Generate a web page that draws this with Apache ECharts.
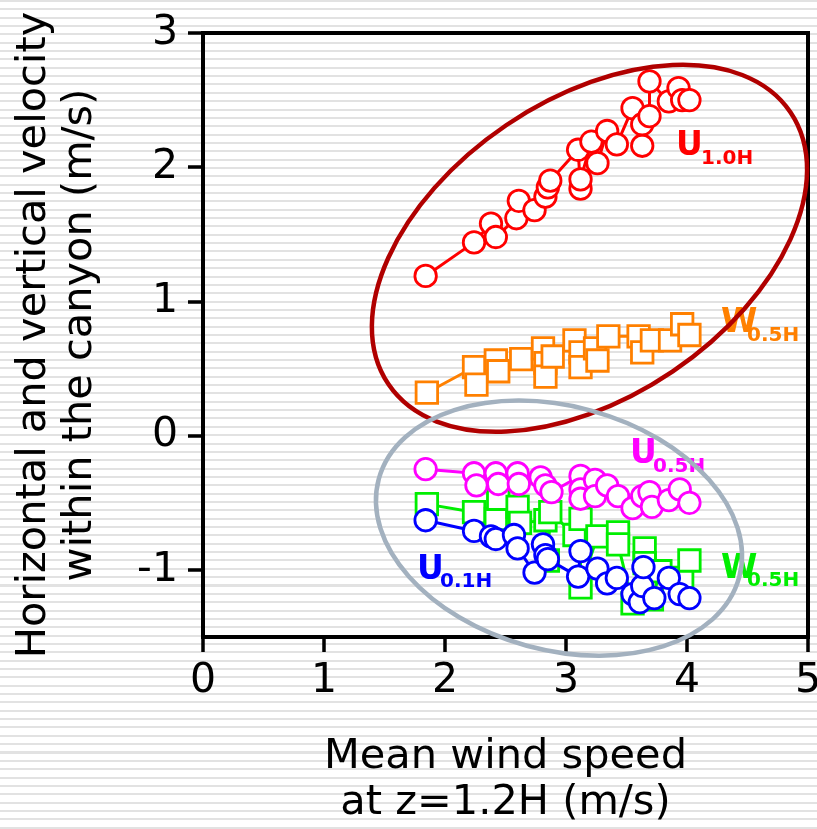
<!DOCTYPE html>
<html><head><meta charset="utf-8">
<script src="https://cdn.jsdelivr.net/npm/echarts@6/dist/echarts.min.js"></script>
<style>
html,body{margin:0;padding:0;overflow:hidden;width:817px;height:829px;}
body{background:repeating-linear-gradient(to bottom,#e2e2e2 0px,#e2e2e2 2px,#ffffff 2px,#ffffff 8.35px);}
#c{width:817px;height:829px;}
</style></head>
<body><div id="c"></div>
<script>
// ---- data ----
const xTicks = [0, 1, 2, 3, 4, 5];
const yTicks = [-1, 0, 1, 2, 3];

const xU10 = [1.84,2.24,2.38,2.42,2.59,2.61,2.74,2.83,2.85,2.87,3.10,3.12,3.12,3.21,3.26,3.34,3.42,3.55,3.63,3.63,3.69,3.69,3.85,3.93,3.96,4.02];
const yU10 = [1.19,1.44,1.58,1.48,1.62,1.75,1.68,1.78,1.85,1.90,2.13,1.84,1.91,2.19,2.03,2.27,2.17,2.44,2.16,2.32,2.38,2.64,2.49,2.59,2.50,2.50];

const xW05a = [1.85,2.24,2.26,2.42,2.44,2.63,2.81,2.83,2.83,2.89,3.07,3.12,3.12,3.24,3.26,3.35,3.60,3.63,3.71,3.86,3.96,4.02];
const yW05a = [0.32,0.51,0.38,0.56,0.48,0.57,0.65,0.54,0.44,0.59,0.71,0.62,0.51,0.65,0.56,0.74,0.74,0.62,0.71,0.71,0.83,0.75];

const xU05 = [1.84,2.24,2.26,2.42,2.44,2.60,2.61,2.79,2.83,2.88,3.12,3.12,3.12,3.24,3.24,3.34,3.43,3.55,3.63,3.69,3.71,3.85,3.94,4.02];
const yU05 = [-0.25,-0.28,-0.37,-0.28,-0.36,-0.28,-0.36,-0.31,-0.37,-0.42,-0.30,-0.40,-0.47,-0.33,-0.45,-0.37,-0.45,-0.54,-0.45,-0.42,-0.53,-0.48,-0.40,-0.50];

const xW05b = [1.85,2.24,2.42,2.44,2.60,2.62,2.83,2.85,2.87,3.07,3.12,3.12,3.26,3.43,3.43,3.55,3.65,3.65,3.71,3.78,3.96,4.02];
const yW05b = [-0.51,-0.57,-0.62,-0.47,-0.53,-0.65,-0.63,-0.93,-0.57,-0.74,-0.62,-1.13,-0.75,-0.72,-0.81,-1.25,-0.84,-0.95,-1.22,-1.01,-1.06,-0.93];

const xU01 = [1.84,2.24,2.38,2.42,2.57,2.60,2.74,2.81,2.83,2.85,3.10,3.12,3.26,3.34,3.42,3.55,3.61,3.63,3.64,3.73,3.85,3.94,4.02];
const yU01 = [-0.63,-0.71,-0.75,-0.77,-0.74,-0.84,-1.02,-0.81,-0.89,-0.92,-1.05,-0.86,-0.99,-1.10,-1.06,-1.18,-1.24,-1.12,-0.98,-1.21,-1.06,-1.18,-1.21];

// ---- chart ----
const FONT = '"DejaVu Sans", sans-serif';
const pairs = (xs, ys) => xs.map((x, i) => [x, ys[i]]);

function mkSeries(name, xs, ys, color, symbol, size, z) {
  return {
    name: name, type: 'line', data: pairs(xs, ys),
    symbol: symbol, symbolSize: size, showSymbol: true,
    lineStyle: { color: color, width: 3 },
    itemStyle: { color: '#ffffff', borderColor: color, borderWidth: 2.8 },
    z: z, animation: false, silent: true
  };
}

const chart = echarts.init(document.getElementById('c'), null, { renderer: 'canvas', width: 817, height: 829 });

const option = {
  backgroundColor: 'transparent',
  animation: false,
  grid: { left: 203, right: 9, top: 33, bottom: 192, containLabel: false, outerBoundsMode: 'none',
    show: true, borderColor: '#000', borderWidth: 4, backgroundColor: 'transparent' },
  xAxis: {
    type: 'value', min: 0, max: 5, interval: 1,
    axisLine: { show: true, onZero: false, lineStyle: { color: '#000', width: 4 } },
    axisTick: { show: true, inside: false, length: 15, lineStyle: { color: '#000', width: 3.5 } },
    axisLabel: { color: '#000', fontFamily: FONT, fontSize: 41, margin: 24,
      customValues: xTicks, hideOverlap: false },
    splitLine: { show: false },
    name: 'Mean wind speed\nat z=1.2H (m/s)', nameLocation: 'middle', nameGap: 97,
    nameTextStyle: { color: '#000', fontFamily: FONT, fontSize: 41.5, lineHeight: 46 }
  },
  yAxis: {
    type: 'value', min: -1.5, max: 3,
    axisLine: { show: true, onZero: false, lineStyle: { color: '#000', width: 4 } },
    axisTick: { show: true, inside: false, length: 15, lineStyle: { color: '#000', width: 3.5 }, customValues: yTicks },
    axisLabel: { color: '#000', fontFamily: FONT, fontSize: 41, margin: 25, customValues: yTicks },
    splitLine: { show: false },
    name: 'Horizontal and vertical velocity\nwithin the canyon (m/s)', nameLocation: 'middle', nameRotate: 90, nameGap: 100,
    nameTextStyle: { color: '#000', fontFamily: FONT, fontSize: 41.5, lineHeight: 46 }
  },
  series: [
    mkSeries('W0.5H upper', xW05a, yW05a, '#ff8000', 'rect', 21.5, 2),
    mkSeries('U1.0H', xU10, yU10, '#ff0000', 'circle', 21.5, 3),
    mkSeries('W0.5H lower', xW05b, yW05b, '#00ee00', 'rect', 21.5, 4),
    mkSeries('U0.5H', xU05, yU05, '#ff00ff', 'circle', 21.5, 5),
    mkSeries('U0.1H', xU01, yU01, '#0000ff', 'circle', 21.5, 6)
  ]
};
chart.setOption(option);

// annotation ellipses (centres in data units, converted through the axes)
const redC = chart.convertToPixel({ gridIndex: 0 }, [3.194, 1.396]);
const grayC = chart.convertToPixel({ gridIndex: 0 }, [2.942, -0.689]);
const deg = Math.PI / 180;

function lbl(main, sub, color, mx, my, sx, sy) {
  return [
    { type: 'text', x: mx, y: my, z: 50, style: { text: main, fill: color, font: 'bold 33px ' + FONT, align: 'left', verticalAlign: 'middle' } },
    { type: 'text', x: sx, y: sy, z: 50, style: { text: sub, fill: color, font: 'bold 20px ' + FONT, align: 'left', verticalAlign: 'middle' } }
  ];
}

chart.setOption({
  graphic: [
    ...lbl('U', '1.0H', '#ff0000', 676, 146, 701, 159),
    ...lbl('W', '0.5H', '#ff8000', 721, 323, 747, 336),
    ...lbl('U', '0.5H', '#ff00ff', 630, 454, 653, 467),
    ...lbl('U', '0.1H', '#0000ff', 417, 570, 440, 582),
    ...lbl('W', '0.5H', '#00ee00', 721, 569, 747, 581),
    { type: 'ellipse', x: redC[0], y: redC[1], rotation: 34.1 * deg, z: 100,
      shape: { cx: 0, cy: 0, rx: 242.7, ry: 148.6 },
      style: { fill: null, stroke: '#b00000', lineWidth: 4.5 } },
    { type: 'ellipse', x: grayC[0], y: grayC[1], rotation: -15.3 * deg, z: 100,
      shape: { cx: 0, cy: 0, rx: 186.8, ry: 121.9 },
      style: { fill: null, stroke: '#a3b1bf', lineWidth: 4.5 } }
  ]
});
</script>
</body></html>
